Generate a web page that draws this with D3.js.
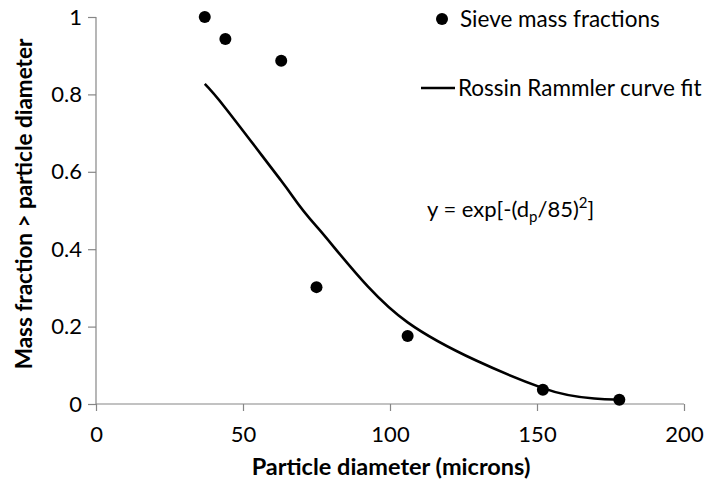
<!DOCTYPE html>
<html>
<head>
<meta charset="utf-8">
<script src="https://cdn.jsdelivr.net/npm/d3@7"></script>
<style>
  html, body { margin: 0; padding: 0; background: #fff; }
  svg { display: block; font-family: Lato, "Open Sans", sans-serif; }
</style>
</head>
<body>
<svg id="chart" width="706" height="481"></svg>
<script>
// Sieve measurements: particle diameter (microns) vs mass fraction larger than it
const sieveDiameters = [37, 44, 63, 75, 106, 152, 178];
const sieveFractions = [1.0, 0.943, 0.887, 0.302, 0.176, 0.037, 0.011];

// Rossin-Rammler fit evaluated at the sieve diameters
const fitDiameters = [37, 44, 63, 75, 106, 152, 178];
const fitFractions = [0.827, 0.765, 0.577, 0.459, 0.211, 0.041, 0.012];

const xTicks = [0, 50, 100, 150, 200];
const yTicks = [0, 0.2, 0.4, 0.6, 0.8, 1];

const svg = d3.select("#chart");
const margin = { left: 96, right: 22, top: 17, bottom: 77 };
const W = 706, H = 481;

const x = d3.scaleLinear().domain([0, 200]).range([margin.left, W - margin.right]);
const y = d3.scaleLinear().domain([0, 1]).range([H - margin.bottom, margin.top]);

const axisColor = "#868686";
const fontSize = 22;

// x axis
const gx = svg.append("g")
  .attr("transform", `translate(0,${y(0)})`)
  .call(d3.axisBottom(x).tickValues(xTicks).tickSize(7).tickPadding(15).tickFormat(d3.format("d")));
// y axis
const gy = svg.append("g")
  .attr("transform", `translate(${x(0)},0)`)
  .call(d3.axisLeft(y).tickValues(yTicks).tickSize(8).tickPadding(6).tickFormat(d => d === 0 || d === 1 ? d3.format("d")(d) : d3.format(".1f")(d)));

[gx, gy].forEach(g => {
  g.select(".domain").attr("stroke", axisColor).attr("stroke-width", 1.2);
  g.selectAll(".tick line").attr("stroke", axisColor).attr("stroke-width", 1.2);
  g.selectAll(".tick text").attr("fill", "#000").style("font-size", fontSize + "px").style("font-family", "Lato, 'Open Sans', sans-serif");
});
gx.select(".domain").attr("d", `M${x(0)},0H${x(200)}`);
gy.select(".domain").attr("d", `M0,${y(0)}V${y(1)}`);

// fit curve
const line = d3.line()
  .x((d, i) => x(fitDiameters[i]))
  .y(d => y(d))
  .curve(d3.curveCatmullRom.alpha(0));
svg.append("path")
  .datum(fitFractions)
  .attr("d", line)
  .attr("fill", "none")
  .attr("stroke", "#000")
  .attr("stroke-width", 2.6);

// sieve points
svg.append("g").selectAll("circle")
  .data(sieveFractions)
  .join("circle")
  .attr("cx", (d, i) => x(sieveDiameters[i]))
  .attr("cy", d => y(d))
  .attr("r", 6)
  .attr("fill", "#000");

// axis titles
svg.append("text")
  .attr("x", (x(0) + x(200)) / 2 + 1)
  .attr("y", 475)
  .attr("text-anchor", "middle")
  .style("font-size", "23.5px")
  .style("font-weight", "bold")
  .text("Particle diameter (microns)");

svg.append("text")
  .attr("transform", `translate(32,204) rotate(-90)`)
  .attr("text-anchor", "middle")
  .style("font-size", "22.5px")
  .style("font-weight", "bold")
  .text("Mass fraction > particle diameter");

// legend
const legend = svg.append("g");
legend.append("circle").attr("cx", 442).attr("cy", 19).attr("r", 6).attr("fill", "#000");
legend.append("text").attr("x", 460).attr("y", 27).style("font-size", "22.5px").text("Sieve mass fractions");
legend.append("line").attr("x1", 421).attr("x2", 455).attr("y1", 88).attr("y2", 88)
  .attr("stroke", "#000").attr("stroke-width", 2.6);
legend.append("text").attr("x", 458).attr("y", 96).style("font-size", "22.5px").text("Rossin Rammler curve fit");

// fitted equation
const eq = svg.append("text").attr("x", 427).attr("y", 217).style("font-size", "22px");
eq.append("tspan").text("y = exp[-(d");
eq.append("tspan").attr("dy", 5).style("font-size", "15px").text("p");
eq.append("tspan").attr("dy", -5).text("/85)");
eq.append("tspan").attr("dy", -9).style("font-size", "15px").text("2");
eq.append("tspan").attr("dy", 9).text("]");
</script>
</body>
</html>
